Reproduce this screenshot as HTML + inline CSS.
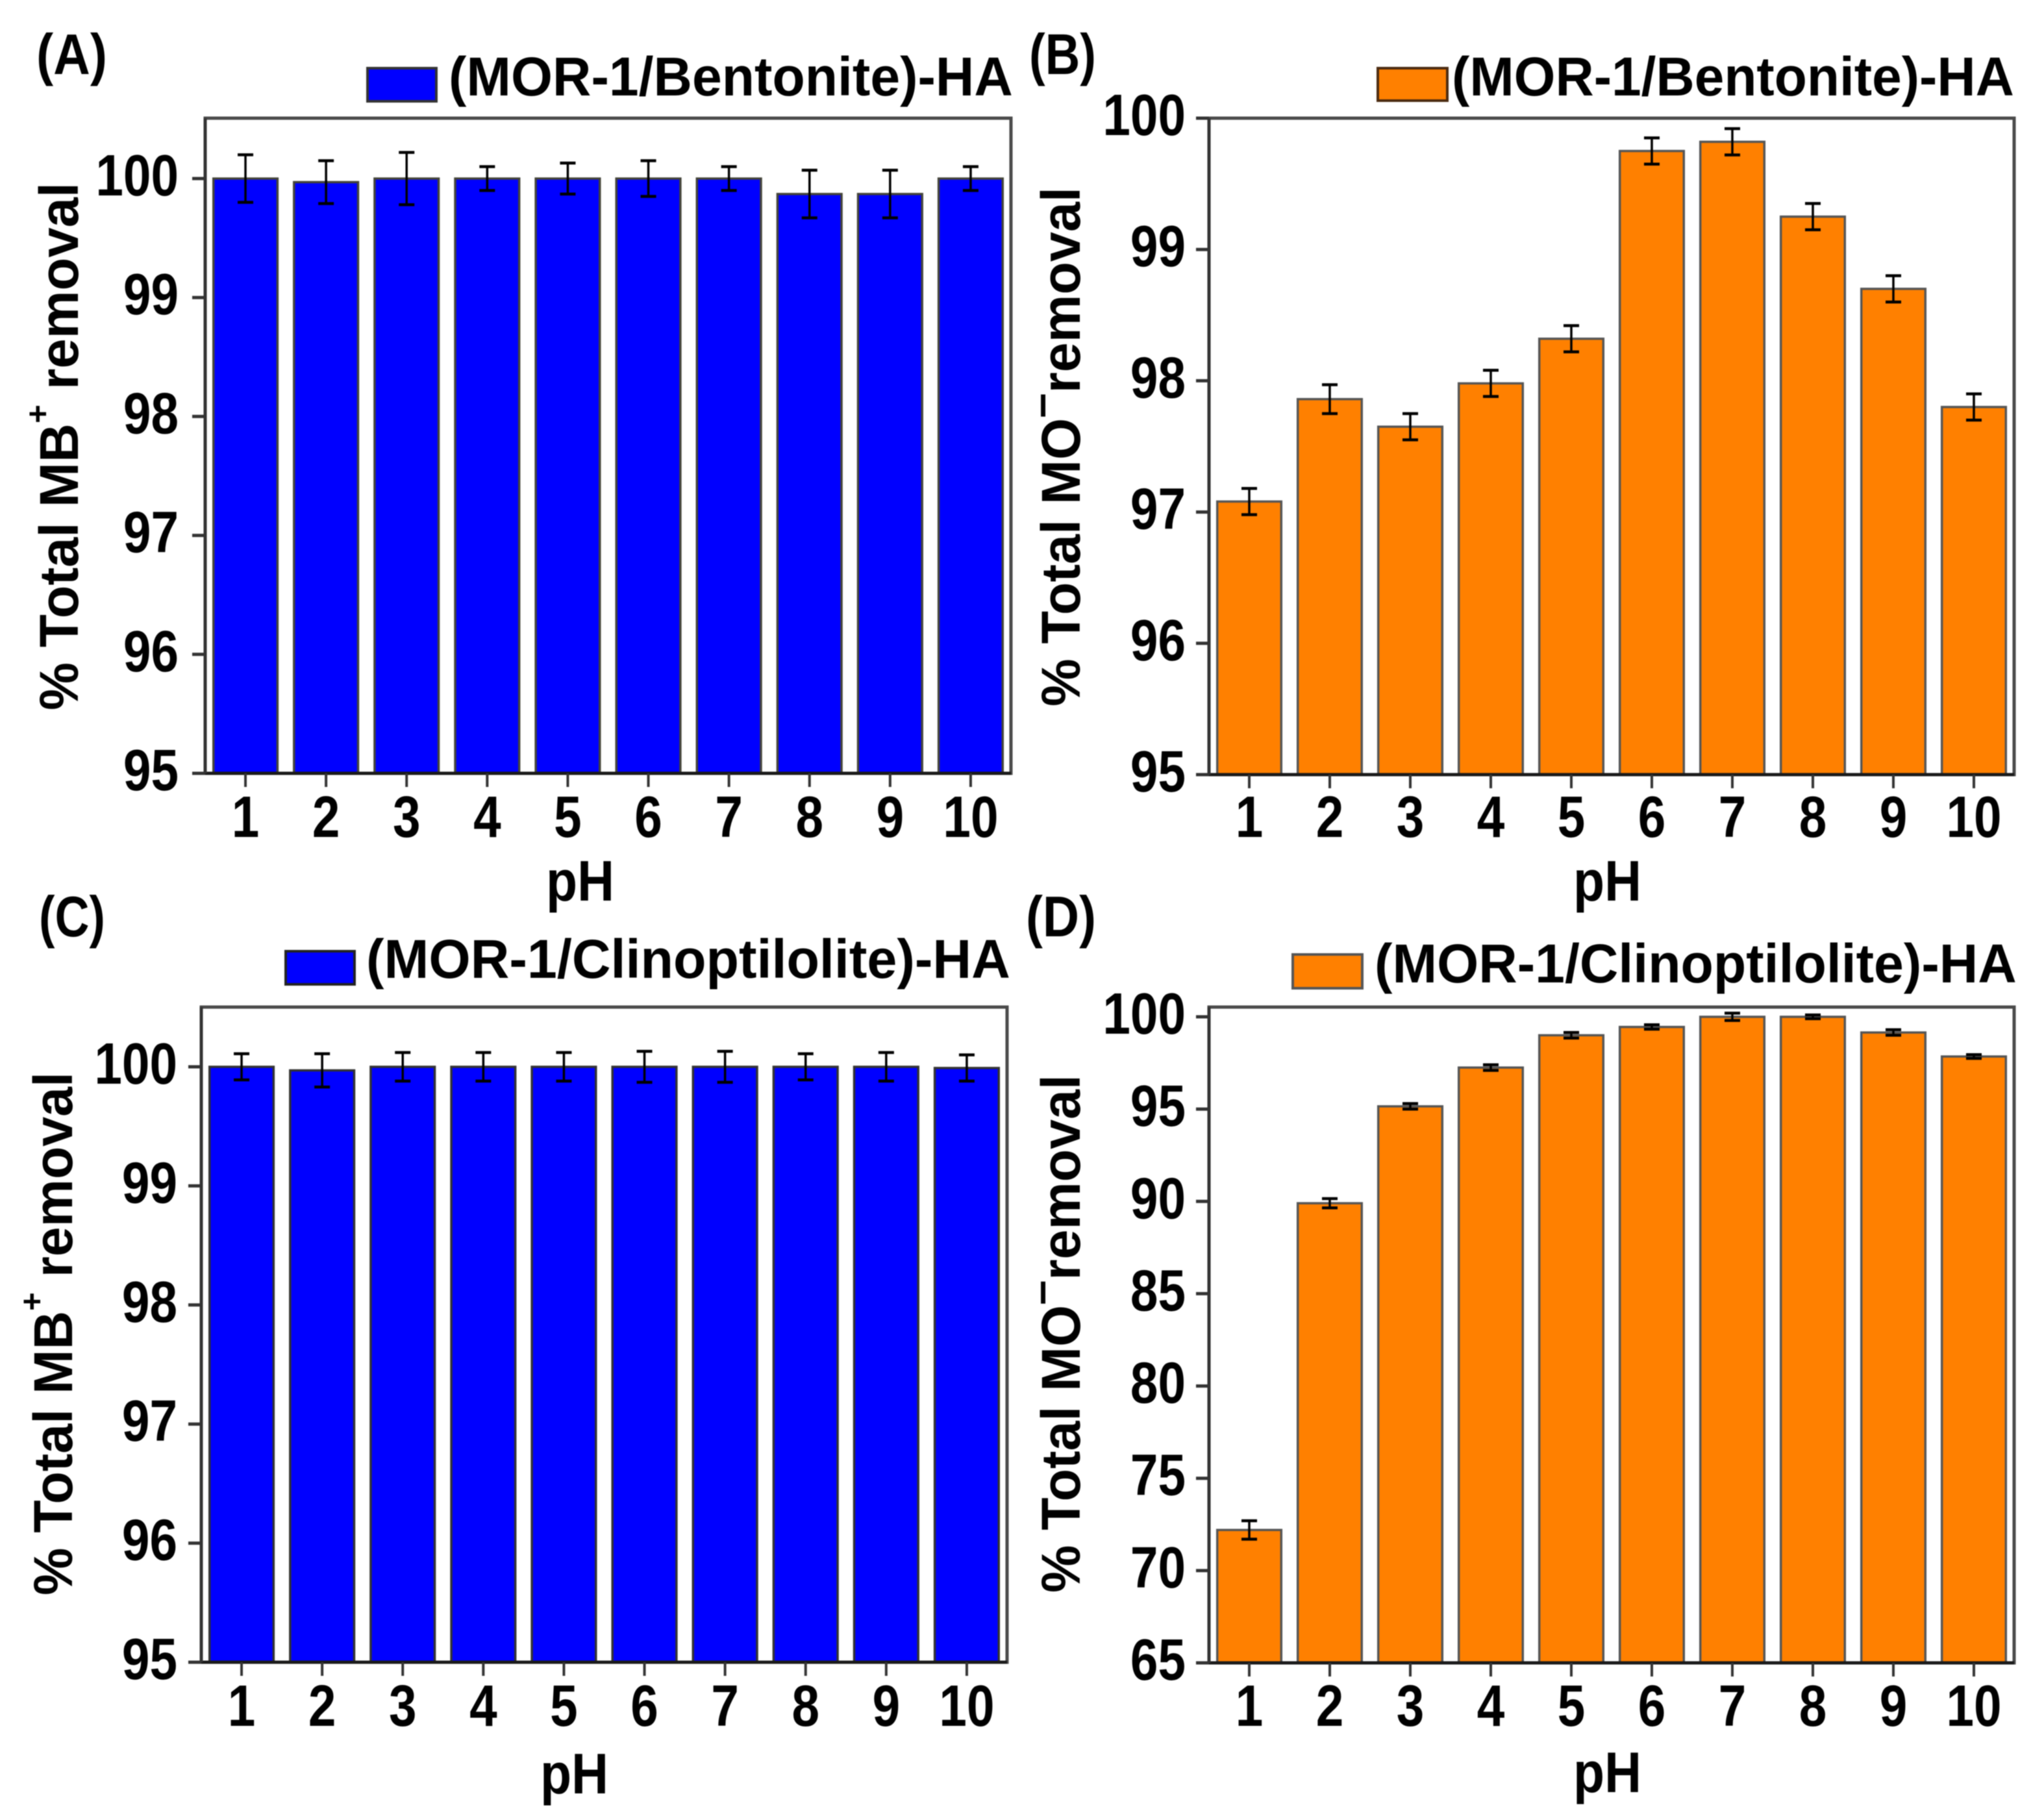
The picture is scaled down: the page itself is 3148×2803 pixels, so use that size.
<!DOCTYPE html>
<html lang="en">
<head>
<meta charset="utf-8">
<title>Removal versus pH</title>
<style>
html,body{margin:0;padding:0;background:#fff;}
body{width:3148px;height:2803px;overflow:hidden;}
svg{display:block;filter:blur(0.9px);}
text{font-family:"Liberation Sans",sans-serif;font-weight:bold;fill:#000;white-space:pre;}
.fit{font-size:88px;}
</style>
</head>
<body>
<svg id="figure" xmlns="http://www.w3.org/2000/svg" width="3148" height="2803" viewBox="0 0 3148 2803">
  <rect x="0" y="0" width="3148" height="2803" fill="#fff"/>

  <g id="panel-a"></g>
  <g id="panel-b"></g>
  <g id="panel-c"></g>
  <g id="panel-d"></g>

  <text class="fit" data-x="56" data-y="114" data-w="109">(A)</text>
  <text class="fit" data-x="1585" data-y="114" data-w="103">(B)</text>
  <text class="fit" data-x="60" data-y="1442" data-w="102">(C)</text>
  <text class="fit" data-x="1580" data-y="1442" data-w="108">(D)</text>

  <rect x="566" y="105" width="106" height="51" fill="#0000ff" stroke="#333" stroke-width="4"/>
  <text class="fit" data-x="691" data-y="147" data-w="869" style="font-size:84px">(MOR-1/Bentonite)-HA</text>
  <rect x="2122" y="105" width="107" height="50" fill="#ff8000" stroke="#4a2a10" stroke-width="4"/>
  <text class="fit" data-x="2236" data-y="147" data-w="866" style="font-size:84px">(MOR-1/Bentonite)-HA</text>
  <rect x="440" y="1465" width="106" height="51" fill="#0000ff" stroke="#222" stroke-width="4"/>
  <text class="fit" data-x="564" data-y="1506" data-w="992" style="font-size:84px">(MOR-1/Clinoptilolite)-HA</text>
  <rect x="1991" y="1470" width="107" height="52" fill="#ff8000" stroke="#555" stroke-width="4"/>
  <text class="fit" data-x="2117" data-y="1513" data-w="989" style="font-size:84px">(MOR-1/Clinoptilolite)-HA</text>

  <text class="fit" data-x="120" data-y="1094" data-w="813" data-r="-90" style="font-size:84px">% Total MB<tspan dy="-45" style="font-size:50px">+</tspan><tspan dy="45"> removal</tspan></text>
  <text class="fit" data-x="1663" data-y="1088" data-w="800" data-r="-90" style="font-size:84px">% Total MO<tspan dy="-38" style="font-size:70px">–</tspan><tspan dy="38">removal</tspan></text>
  <text class="fit" data-x="111" data-y="2457" data-w="806" data-r="-90" style="font-size:84px">% Total MB<tspan dy="-45" style="font-size:50px">+</tspan><tspan dy="45"> removal</tspan></text>
  <text class="fit" data-x="1663" data-y="2453" data-w="798" data-r="-90" style="font-size:84px">% Total MO<tspan dy="-38" style="font-size:70px">–</tspan><tspan dy="38">removal</tspan></text>

  <text class="fit" data-x="841" data-y="1387" data-w="105">pH</text>
  <text class="fit" data-x="2423" data-y="1387" data-w="105">pH</text>
  <text class="fit" data-x="832" data-y="2762" data-w="105">pH</text>
  <text class="fit" data-x="2423" data-y="2760" data-w="105">pH</text>
</svg>

<script>
var categories = [1, 2, 3, 4, 5, 6, 7, 8, 9, 10];

var valuesA = [100, 99.97, 100, 100, 100, 100, 100, 99.87, 99.87, 100];
var errorsA = [0.2, 0.18, 0.22, 0.1, 0.13, 0.15, 0.1, 0.2, 0.2, 0.1];
var ticksA = [95, 96, 97, 98, 99, 100];

var valuesB = [97.08, 97.86, 97.65, 97.98, 98.32, 99.75, 99.82, 99.25, 98.7, 97.8];
var errorsB = [0.1, 0.11, 0.1, 0.1, 0.1, 0.1, 0.1, 0.1, 0.1, 0.1];
var ticksB = [95, 96, 97, 98, 99, 100];

var valuesC = [100, 99.97, 100, 100, 100, 100, 100, 100, 100, 99.99];
var errorsC = [0.11, 0.14, 0.12, 0.12, 0.12, 0.13, 0.13, 0.11, 0.12, 0.11];
var ticksC = [95, 96, 97, 98, 99, 100];

var valuesD = [72.2, 89.9, 95.15, 97.25, 99, 99.45, 100, 100, 99.15, 97.85];
var errorsD = [0.5, 0.25, 0.15, 0.15, 0.15, 0.12, 0.2, 0.1, 0.15, 0.1];
var ticksD = [65, 70, 75, 80, 85, 90, 95, 100];

var SVG_NS = 'http://www.w3.org/2000/svg';

function make(parent, tag, attrs) {
  var el = document.createElementNS(SVG_NS, tag);
  for (var k in attrs) el.setAttribute(k, attrs[k]);
  parent.appendChild(el);
  return el;
}

function drawPanel(opts) {
  var root = document.getElementById(opts.id);
  var plotW = opts.right - opts.left;
  var step = plotW / categories.length;
  var unit = (opts.y0 - opts.yTop) / (opts.vTop - opts.vMin);
  function xScale(c) { return opts.left + (c - 0.5) * step; }
  function yScale(v) { return opts.y0 - (v - opts.vMin) * unit; }
  var barW = step * 0.795;

  categories.forEach(function (cat, i) {
    var top = yScale(opts.values[i]);
    var bar = make(root, 'rect', {
      x: xScale(cat) - barW / 2, y: top, width: barW, height: opts.y0 - top,
      fill: opts.color, stroke: opts.barStroke, 'stroke-width': 3.5
    });
    
    
  });

  categories.forEach(function (cat, i) {
    var cx = xScale(cat);
    var hi = yScale(opts.values[i] + opts.errors[i]);
    var lo = yScale(opts.values[i] - opts.errors[i]);
    var eg = make(root, 'g', { stroke: '#000' });
    
    
    make(eg, 'line', { x1: cx, x2: cx, y1: hi, y2: lo, 'stroke-width': 3.5 });
    make(eg, 'line', { x1: cx - 12, x2: cx + 12, y1: hi, y2: hi, 'stroke-width': 4.5 });
    make(eg, 'line', { x1: cx - 12, x2: cx + 12, y1: lo, y2: lo, 'stroke-width': 4.5 });
  });

  var frame = make(root, 'rect', {
    x: opts.left, y: opts.top, width: plotW, height: opts.y0 - opts.top,
    fill: 'none', stroke: '#4a4a4a', 'stroke-width': 5
  });
  
  

  var xAxis = make(root, 'line', {
    x1: opts.left - 20, x2: opts.right, y1: opts.y0, y2: opts.y0, stroke: '#1a1a1a', 'stroke-width': 5
  });
  
  

  var yAxis = make(root, 'line', {
    x1: opts.left, x2: opts.left, y1: opts.top, y2: opts.y0, stroke: '#333', 'stroke-width': 5
  });
  
  

  opts.ticks.forEach(function (t) {
    var y = yScale(t);
    var tick = make(root, 'line', {
      x1: opts.left - 20, x2: opts.left, y1: y, y2: y, stroke: '#333', 'stroke-width': 5
    });
    
    
    var lab = make(root, 'text', {
      transform: 'translate(' + opts.yLabelX + ',' + (y + 26) + ') scale(0.85,1)',
      'text-anchor': 'end', 'font-size': 90
    });
    
    
    lab.textContent = String(t);
  });

  categories.forEach(function (cat) {
    var x = xScale(cat);
    var tick = make(root, 'line', {
      x1: x, x2: x, y1: opts.y0, y2: opts.y0 + 21, stroke: '#333', 'stroke-width': 4
    });
    
    
    var lab = make(root, 'text', {
      transform: 'translate(' + x + ',' + opts.xLabelY + ') scale(0.85,1)',
      'text-anchor': 'middle', 'font-size': 90
    });
    
    
    lab.textContent = String(cat);
  });
}

drawPanel({
  id: 'panel-a', values: valuesA, errors: errorsA, ticks: ticksA,
  left: 316, right: 1557, top: 182, y0: 1191, yTop: 275, vMin: 95, vTop: 100,
  color: '#0000ff', barStroke: '#44443a', yLabelX: 275, xLabelY: 1289
});
drawPanel({
  id: 'panel-b', values: valuesB, errors: errorsB, ticks: ticksB,
  left: 1862, right: 3102, top: 182, y0: 1193, yTop: 182, vMin: 95, vTop: 100,
  color: '#ff8000', barStroke: '#555', yLabelX: 1826, xLabelY: 1289
});
drawPanel({
  id: 'panel-c', values: valuesC, errors: errorsC, ticks: ticksC,
  left: 310, right: 1551, top: 1551, y0: 2560, yTop: 1643, vMin: 95, vTop: 100,
  color: '#0000ff', barStroke: '#333', yLabelX: 273, xLabelY: 2658
});
drawPanel({
  id: 'panel-d', values: valuesD, errors: errorsD, ticks: ticksD,
  left: 1862, right: 3102, top: 1551, y0: 2561, yTop: 1566, vMin: 65, vTop: 100,
  color: '#ff8000', barStroke: '#555', yLabelX: 1826, xLabelY: 2658
});

var fitted = document.querySelectorAll('text.fit');
for (var i = 0; i < fitted.length; i++) {
  var t = fitted[i];
  var w = t.getComputedTextLength();
  var sx = parseFloat(t.dataset.w) / w;
  var r = t.dataset.r ? ' rotate(' + t.dataset.r + ')' : '';
  t.setAttribute('transform', 'translate(' + t.dataset.x + ',' + t.dataset.y + ')' + r + ' scale(' + sx + ',1)');
}
</script>
</body>
</html>
